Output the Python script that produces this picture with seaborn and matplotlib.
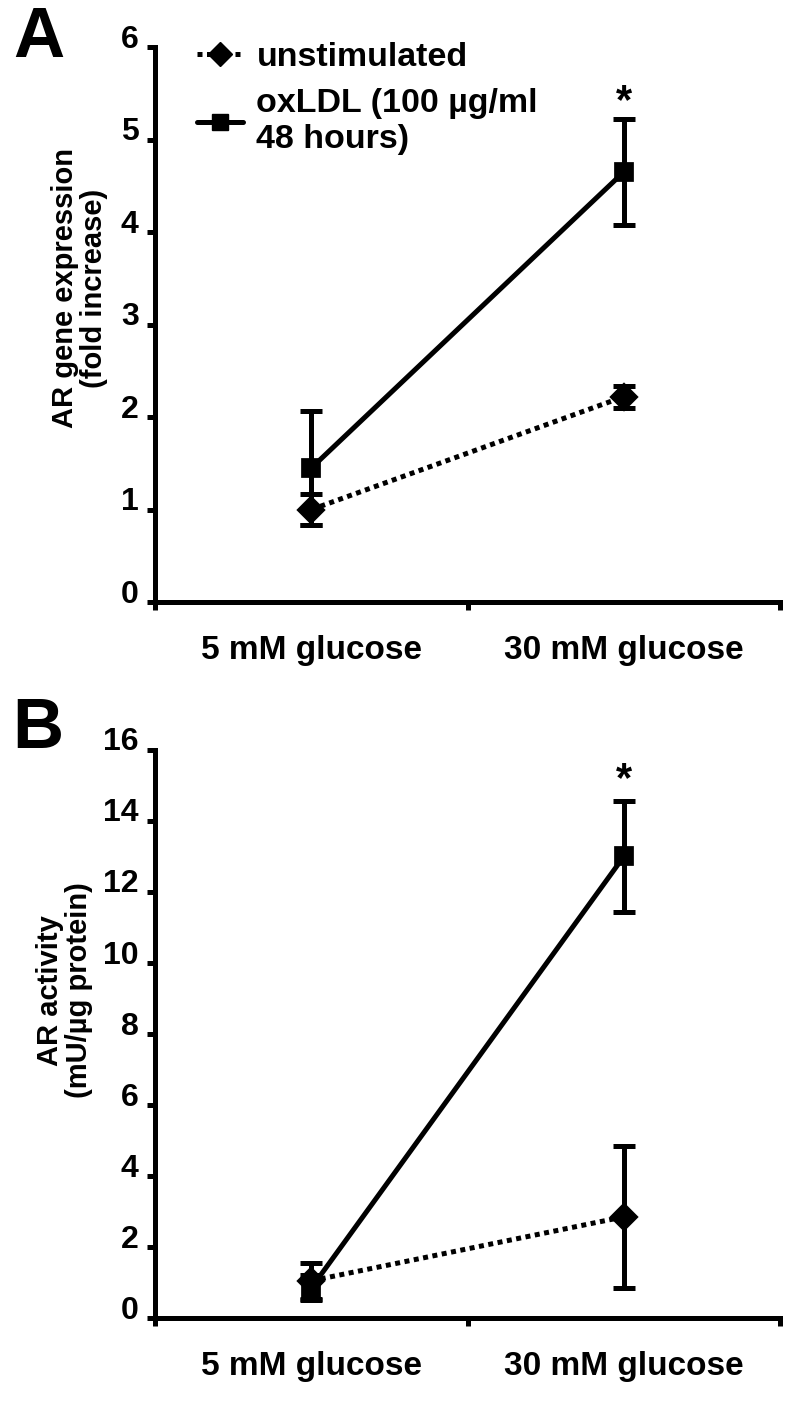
import numpy as np
import pandas as pd
import matplotlib
matplotlib.use('Agg')
import matplotlib.pyplot as plt
import matplotlib.transforms as mtransforms
from matplotlib.lines import Line2D
import seaborn as sns

# Data
glucose = ['5 mM glucose', '30 mM glucose']
conditions = ['unstimulated', 'oxLDL (100 µg/ml\n48 hours)']

expr_unstim = [1.0, 2.22]
expr_unstim_err = [0.17, 0.12]
expr_oxldl = [1.45, 4.65]
expr_oxldl_err = [0.62, 0.57]

act_unstim = [1.05, 2.85]
act_unstim_err = [0.5, 2.0]
act_oxldl = [0.85, 13.0]
act_oxldl_err = [0.35, 1.57]

sns.set_theme(style='white')
plt.rcParams['font.family'] = ['Liberation Sans', 'DejaVu Sans']
plt.rcParams['font.weight'] = 'bold'
for k in ['text.color', 'axes.labelcolor', 'xtick.color', 'ytick.color']:
    plt.rcParams[k] = 'black'

LW = 3.6
MS = 12
dotted = (0, (1.0, 0.9))


def panel(ax, unstim, unstim_err, oxldl, oxldl_err, ymax, ystep, ylabel,
          label_xy, star_y):
    df = pd.DataFrame({
        'glucose': glucose * 2,
        'value': unstim + oxldl,
        'condition': [conditions[0]] * 2 + [conditions[1]] * 2,
    })
    sns.pointplot(data=df, x='glucose', y='value', hue='condition', ax=ax,
                  palette=['black', 'black'], markers=['D', 's'],
                  linestyles=['-', '-'], errorbar=None, legend=False,
                  markersize=MS, linewidth=LW)
    # dotted line for the unstimulated series
    ax.lines[0].set_linestyle(dotted)
    ax.lines[0].set_dash_capstyle('butt')
    xs = np.arange(len(glucose))
    ax.errorbar(xs, oxldl, yerr=oxldl_err, fmt='none', ecolor='black',
                elinewidth=LW, capsize=8, capthick=LW, zorder=3)
    ax.errorbar(xs, unstim, yerr=unstim_err, fmt='none', ecolor='black',
                elinewidth=LW, capsize=8, capthick=LW, zorder=3)

    ax.set_xlim(-0.5, 1.5)
    ax.set_ylim(0, ymax)
    ticks = np.arange(0, ymax + 0.01, ystep)
    ax.set_yticks(ticks)
    ax.set_yticklabels([f'{v:g}' for v in ticks])
    ax.set_xticks([-0.5, 0.5, 1.5])
    ax.set_xticklabels([])
    ax.set_xticks([0, 1], minor=True)
    ax.set_xticklabels(glucose, minor=True)
    ax.tick_params(axis='x', which='minor', length=0, pad=24, labelsize=24)
    ax.tick_params(axis='x', which='major', direction='out', length=6,
                   width=LW, bottom=True)
    ax.tick_params(axis='y', direction='out', length=6, width=LW, left=True,
                   labelsize=23, pad=6)
    for lab in ax.get_yticklabels():
        lab.set_fontweight('bold')
        lab.set_transform(lab.get_transform() +
                          mtransforms.ScaledTranslation(0, 0.11, ax.figure.dpi_scale_trans))
    for lab in ax.get_xticklabels(minor=True):
        lab.set_fontweight('bold')
    ax.spines['top'].set_visible(False)
    ax.spines['right'].set_visible(False)
    for s in ['left', 'bottom']:
        ax.spines[s].set_linewidth(LW)
        ax.spines[s].set_color('black')
    ax.set_xlabel('')
    ax.set_ylabel(ylabel, fontsize=21, fontweight='bold', linespacing=1.05)
    ax.yaxis.set_label_coords(*label_xy)
    ax.text(1, star_y, '*', ha='center', va='center', fontsize=30,
            fontweight='bold')


fig = plt.figure(figsize=(8, 14.05), dpi=100)
ax_a = fig.add_axes([0.194, 0.5715, 0.781, 0.395])
ax_b = fig.add_axes([0.194, 0.0619, 0.781, 0.4043])

panel(ax_a, expr_unstim, expr_unstim_err, expr_oxldl, expr_oxldl_err,
      6, 1, 'AR gene expression\n(fold increase)', (-0.076, 0.566), 5.4)
panel(ax_b, act_unstim, act_unstim_err, act_oxldl, act_oxldl_err,
      16, 2, 'AR activity\n(mU/µg protein)', (-0.1, 0.577), 15.15)

fig.text(0.048, 0.972, 'A', fontsize=51, fontweight='bold', ha='center', va='center')
fig.text(0.047, 0.4805, 'B', fontsize=51, fontweight='bold', ha='center', va='center')

# legend in panel A
handles = [
    Line2D([], [], color='black', lw=LW, ls=dotted, marker='D', markersize=MS),
    Line2D([], [], color='black', lw=LW, ls='-', marker='s', markersize=MS),
]
leg = ax_a.legend(handles, conditions, loc='upper left', bbox_to_anchor=(0.045, 1.034),
                  frameon=False, fontsize=24.5, handlelength=1.35, handletextpad=0.4,
                  labelspacing=0.45, borderaxespad=0)
for t in leg.get_texts():
    t.set_fontweight('bold')

fig.savefig('out.png', dpi=100)
